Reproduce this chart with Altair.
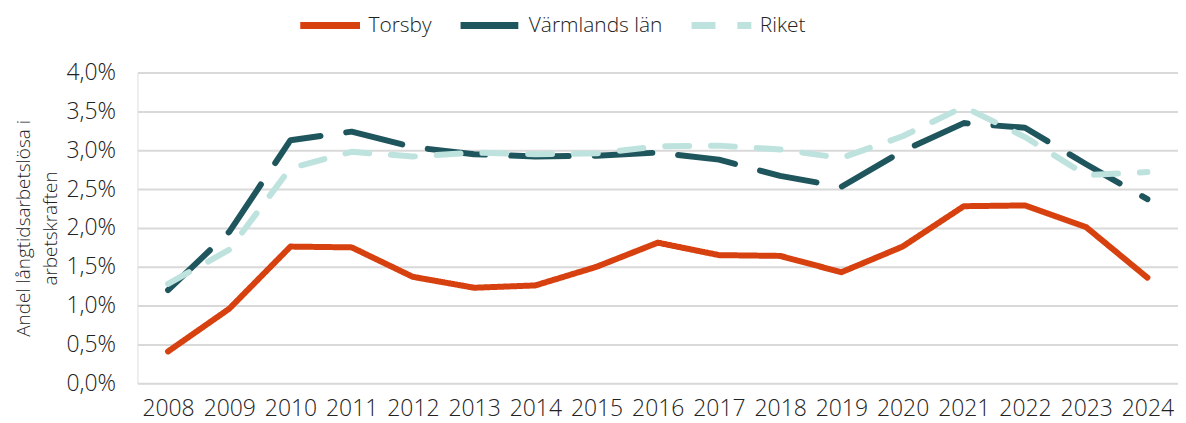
import altair as alt
import pandas as pd

years = [str(y) for y in range(2008, 2025)]
torsby = [0.41, 0.96, 1.76, 1.75, 1.37, 1.23, 1.26, 1.50, 1.81, 1.65, 1.64, 1.43, 1.76, 2.28, 2.29, 2.01, 1.36]
varmland = [1.20, 1.95, 3.13, 3.24, 3.04, 2.95, 2.92, 2.93, 2.97, 2.88, 2.67, 2.53, 2.99, 3.35, 3.29, 2.82, 2.37]
riket = [1.28, 1.72, 2.77, 2.98, 2.92, 2.97, 2.95, 2.96, 3.05, 3.06, 3.01, 2.90, 3.18, 3.56, 3.17, 2.68, 2.72]
y_ticks = [0.0, 0.5, 1.0, 1.5, 2.0, 2.5, 3.0, 3.5, 4.0]

series = ["Torsby", "Värmlands län", "Riket"]
colors = ["#D7410F", "#1F565D", "#BEE3DE"]
dashes = [[1, 0], [58, 26], [24, 22]]

rows = []
for name, vals in zip(series, [torsby, varmland, riket]):
    for y, v in zip(years, vals):
        rows.append({"År": y, "Serie": name, "Värde": v / 100})
df = pd.DataFrame(rows)

FONT = "Open Sans"
FW = 300
TXT = "#222222"

chart = alt.Chart(df).mark_line(strokeWidth=6, strokeCap="round", strokeJoin="round").encode(
    x=alt.X("År:N", sort=years,
            scale=alt.Scale(paddingInner=0, paddingOuter=0.5),
            axis=alt.Axis(title=None, labelAngle=0, labelFontSize=23, labelColor=TXT,
                          labelFont=FONT, labelFontWeight=FW, ticks=False, domain=False,
                          grid=False, labelPadding=14, labelOverlap=False)),
    y=alt.Y("Värde:Q", scale=alt.Scale(domain=[0, 0.04], nice=False),
            axis=alt.Axis(format=".1%", values=[t / 100 for t in y_ticks],
                          labelExpr="replace(datum.label, '.', ',')",
                          labelOverlap=False,
                          title=["Andel långtidsarbetslösa i", "arbetskraften"],
                          titleFontSize=19, titleFont=FONT, titleFontWeight=FW,
                          titleColor=TXT, titlePadding=6, titleLineHeight=27,
                          labelFontSize=23, labelFont=FONT, labelFontWeight=FW,
                          labelColor=TXT, labelPadding=22,
                          ticks=False, domain=False, gridColor="#D9D9D9", gridWidth=2)),
    color=alt.Color("Serie:N", sort=series,
                    scale=alt.Scale(domain=series, range=colors),
                    legend=alt.Legend(title=None, orient="none", direction="horizontal",
                                      legendX=160, legendY=-81, symbolType="stroke",
                                      symbolSize=3600, symbolStrokeWidth=7,
                                      labelFontSize=21, labelFont=FONT, labelFontWeight=FW,
                                      labelColor=TXT, columnPadding=14, labelOffset=5)),
    strokeDash=alt.StrokeDash("Serie:N", sort=series,
                              scale=alt.Scale(domain=series, range=dashes),
                              legend=None),
    order=alt.Order("serie_order:Q"),
    detail="Serie:N",
).transform_calculate(
    serie_order="datum.Serie == 'Torsby' ? 0 : (datum.Serie == 'Värmlands län' ? 1 : 2)"
).properties(
    width=1045, height=312,
    autosize=alt.AutoSizeParams(type="none"),
    padding={"left": 130, "top": 64, "right": 0, "bottom": 40},
).configure_view(stroke=None).configure(background="white")

chart.save("out.html", embed_options={"renderer": "svg", "actions": False})
